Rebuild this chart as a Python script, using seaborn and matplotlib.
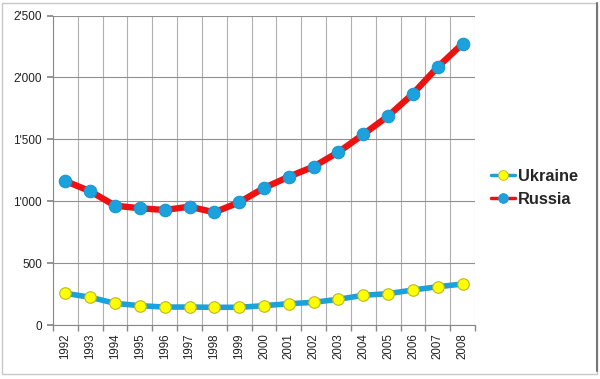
import matplotlib
matplotlib.use("Agg")
import matplotlib.pyplot as plt
import matplotlib.ticker as mticker
from matplotlib.patches import Rectangle
from matplotlib.lines import Line2D
import seaborn as sns
import pandas as pd

years = list(range(1992, 2009))
ukraine = [256, 224, 175, 156, 145, 145, 143, 143, 156, 172, 183, 208, 240, 253, 283, 309, 331]
russia = [1163, 1080, 964, 943, 929, 956, 910, 991, 1107, 1198, 1279, 1397, 1540, 1688, 1868, 2084, 2272]
series_names = ["Ukraine", "Russia"]
y_ticks = [0, 500, 1000, 1500, 2000, 2500]

sns.set_theme(style="white")
plt.rcParams['font.family'] = ['Liberation Sans', 'DejaVu Sans']

fig = plt.figure(figsize=(6.0, 3.79), dpi=100)
ax = fig.add_axes([53/600, 1-325/379, (475-53)/600, (325-15.5)/379])

df = pd.DataFrame({"year": years * 2,
                   "value": ukraine + russia,
                   "country": ["Ukraine"] * len(years) + ["Russia"] * len(years)})

line_col = {"Ukraine": "#1ba1dc", "Russia": "#ee1111"}
mk_face = {"Ukraine": "#ffff00", "Russia": "#1ba1dc"}
mk_edge = {"Ukraine": "#b8b820", "Russia": "#1a98d0"}
mk_size = {"Ukraine": 8.3, "Russia": 9.0}
lw = {"Ukraine": 4.0, "Russia": 4.6}

for name in ["Ukraine", "Russia"]:
    sub = df[df.country == name]
    sns.lineplot(data=sub, x="year", y="value", ax=ax, color=line_col[name],
                 linewidth=lw[name], marker="o", markersize=mk_size[name],
                 markerfacecolor=mk_face[name], markeredgecolor=mk_edge[name],
                 markeredgewidth=0.8, legend=False, zorder=3)

ax.set_xlim(1991.5, 2008.5)
ax.set_ylim(0, 2500)
ax.set_xlabel("")
ax.set_ylabel("")

ax.set_xticks(years)
ax.set_xticklabels([str(y) for y in years], rotation=90, fontsize=8.3, color="#222222")
ax.set_xticks([y + 0.5 for y in [1991] + years], minor=True)
ax.tick_params(axis="x", which="major", length=0, pad=6)
ax.tick_params(axis="x", which="minor", length=4, color="#888888", bottom=True)
ax.grid(True, axis="x", which="minor", color="#b0b0b0", linewidth=0.8)
ax.grid(False, axis="x", which="major")

ax.set_yticks(y_ticks)
ax.yaxis.set_major_formatter(mticker.FuncFormatter(lambda v, p: f"{int(v):,}".replace(",", "'")))
ax.tick_params(axis="y", which="major", length=4, color="#888888", left=True, labelsize=8.5,
               labelcolor="#222222", pad=4)
ax.grid(True, axis="y", which="major", color="#909090", linewidth=0.8)

for s in ["top", "right"]:
    ax.spines[s].set_visible(False)
for s in ["left", "bottom"]:
    ax.spines[s].set_color("#888888")
    ax.spines[s].set_linewidth(0.8)

handles = []
for name in series_names:
    handles.append(Line2D([0], [0], color=line_col[name], linewidth=2.5, marker="o",
                          markersize=7, markerfacecolor=mk_face[name],
                          markeredgecolor=mk_edge[name], markeredgewidth=0.6))
leg = fig.legend(handles, series_names, loc="center left", bbox_to_anchor=(491/600, 1-188/379),
                 frameon=False, prop={"weight": "bold", "size": 11.8}, handlelength=1.45,
                 handletextpad=0.2, labelspacing=0.5, borderpad=0, borderaxespad=0)

fig.patches.append(Rectangle((2/600, 5/379), 595/600, 371/379, transform=fig.transFigure,
                             fill=False, edgecolor="#c8c8c8", linewidth=1.0))
fig.add_artist(Line2D([597/600, 597/600], [8/379, 376/379], transform=fig.transFigure,
                      color="#777777", linewidth=1.5))

fig.savefig("out.png", dpi=100)
